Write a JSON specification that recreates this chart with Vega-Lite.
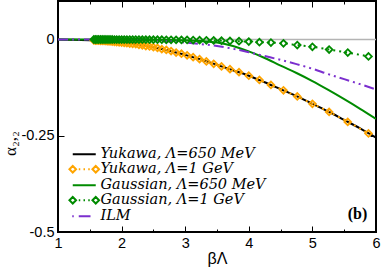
{
  "$schema": "https://vega.github.io/schema/vega-lite/v6.json",
  "width": 318,
  "height": 231,
  "autosize": {"type": "none"},
  "padding": {"left": 58, "top": 1, "right": 6, "bottom": 36},
  "background": "white",
  "config": {
    "view": {"stroke": "black", "strokeWidth": 2},
    "axis": {"domain": false, "grid": false, "tickColor": "black", "tickWidth": 1, "labelFont": "Liberation Sans", "labelFontSize": 14.5, "labelColor": "black", "titleFont": "Liberation Sans", "titleFontSize": 16, "titleColor": "black", "titleFontWeight": "normal", "labelFlush": false, "labelOverlap": false}
  },
  "data": {"values": [
    {"s": "Yukawa, Λ=650 MeV", "x": 1, "y": 0},
    {"s": "Yukawa, Λ=650 MeV", "x": 1.25, "y": -0.0005},
    {"s": "Yukawa, Λ=650 MeV", "x": 1.5, "y": -0.002},
    {"s": "Yukawa, Λ=650 MeV", "x": 1.75, "y": -0.004},
    {"s": "Yukawa, Λ=650 MeV", "x": 2, "y": -0.008},
    {"s": "Yukawa, Λ=650 MeV", "x": 2.25, "y": -0.013},
    {"s": "Yukawa, Λ=650 MeV", "x": 2.5, "y": -0.02},
    {"s": "Yukawa, Λ=650 MeV", "x": 2.75, "y": -0.029},
    {"s": "Yukawa, Λ=650 MeV", "x": 3, "y": -0.04},
    {"s": "Yukawa, Λ=650 MeV", "x": 3.25, "y": -0.052},
    {"s": "Yukawa, Λ=650 MeV", "x": 3.5, "y": -0.066},
    {"s": "Yukawa, Λ=650 MeV", "x": 3.75, "y": -0.08},
    {"s": "Yukawa, Λ=650 MeV", "x": 4, "y": -0.094},
    {"s": "Yukawa, Λ=650 MeV", "x": 4.25, "y": -0.111},
    {"s": "Yukawa, Λ=650 MeV", "x": 4.5, "y": -0.129},
    {"s": "Yukawa, Λ=650 MeV", "x": 4.75, "y": -0.147},
    {"s": "Yukawa, Λ=650 MeV", "x": 5, "y": -0.167},
    {"s": "Yukawa, Λ=650 MeV", "x": 5.25, "y": -0.187},
    {"s": "Yukawa, Λ=650 MeV", "x": 5.5, "y": -0.209},
    {"s": "Yukawa, Λ=650 MeV", "x": 5.75, "y": -0.231},
    {"s": "Yukawa, Λ=650 MeV", "x": 6, "y": -0.255},
    {"s": "Yukawa, Λ=1 GeV", "x": 1.563, "y": -0.0025},
    {"s": "Yukawa, Λ=1 GeV", "x": 1.587, "y": -0.0027},
    {"s": "Yukawa, Λ=1 GeV", "x": 1.613, "y": -0.0029},
    {"s": "Yukawa, Λ=1 GeV", "x": 1.639, "y": -0.0031},
    {"s": "Yukawa, Λ=1 GeV", "x": 1.667, "y": -0.0033},
    {"s": "Yukawa, Λ=1 GeV", "x": 1.695, "y": -0.0036},
    {"s": "Yukawa, Λ=1 GeV", "x": 1.724, "y": -0.0038},
    {"s": "Yukawa, Λ=1 GeV", "x": 1.754, "y": -0.0041},
    {"s": "Yukawa, Λ=1 GeV", "x": 1.786, "y": -0.0046},
    {"s": "Yukawa, Λ=1 GeV", "x": 1.818, "y": -0.0051},
    {"s": "Yukawa, Λ=1 GeV", "x": 1.852, "y": -0.0056},
    {"s": "Yukawa, Λ=1 GeV", "x": 1.887, "y": -0.0062},
    {"s": "Yukawa, Λ=1 GeV", "x": 1.923, "y": -0.0068},
    {"s": "Yukawa, Λ=1 GeV", "x": 1.961, "y": -0.0074},
    {"s": "Yukawa, Λ=1 GeV", "x": 2.0, "y": -0.008},
    {"s": "Yukawa, Λ=1 GeV", "x": 2.041, "y": -0.0088},
    {"s": "Yukawa, Λ=1 GeV", "x": 2.083, "y": -0.0097},
    {"s": "Yukawa, Λ=1 GeV", "x": 2.128, "y": -0.0106},
    {"s": "Yukawa, Λ=1 GeV", "x": 2.174, "y": -0.0115},
    {"s": "Yukawa, Λ=1 GeV", "x": 2.222, "y": -0.012},
    {"s": "Yukawa, Λ=1 GeV", "x": 2.273, "y": -0.014},
    {"s": "Yukawa, Λ=1 GeV", "x": 2.326, "y": -0.015},
    {"s": "Yukawa, Λ=1 GeV", "x": 2.381, "y": -0.017},
    {"s": "Yukawa, Λ=1 GeV", "x": 2.439, "y": -0.018},
    {"s": "Yukawa, Λ=1 GeV", "x": 2.5, "y": -0.02},
    {"s": "Yukawa, Λ=1 GeV", "x": 2.564, "y": -0.022},
    {"s": "Yukawa, Λ=1 GeV", "x": 2.632, "y": -0.025},
    {"s": "Yukawa, Λ=1 GeV", "x": 2.703, "y": -0.027},
    {"s": "Yukawa, Λ=1 GeV", "x": 2.778, "y": -0.03},
    {"s": "Yukawa, Λ=1 GeV", "x": 2.857, "y": -0.034},
    {"s": "Yukawa, Λ=1 GeV", "x": 2.941, "y": -0.037},
    {"s": "Yukawa, Λ=1 GeV", "x": 3.03, "y": -0.041},
    {"s": "Yukawa, Λ=1 GeV", "x": 3.125, "y": -0.046},
    {"s": "Yukawa, Λ=1 GeV", "x": 3.226, "y": -0.051},
    {"s": "Yukawa, Λ=1 GeV", "x": 3.333, "y": -0.057},
    {"s": "Yukawa, Λ=1 GeV", "x": 3.448, "y": -0.063},
    {"s": "Yukawa, Λ=1 GeV", "x": 3.571, "y": -0.07},
    {"s": "Yukawa, Λ=1 GeV", "x": 3.704, "y": -0.077},
    {"s": "Yukawa, Λ=1 GeV", "x": 3.846, "y": -0.085},
    {"s": "Yukawa, Λ=1 GeV", "x": 4.0, "y": -0.094},
    {"s": "Yukawa, Λ=1 GeV", "x": 4.167, "y": -0.105},
    {"s": "Yukawa, Λ=1 GeV", "x": 4.348, "y": -0.118},
    {"s": "Yukawa, Λ=1 GeV", "x": 4.545, "y": -0.132},
    {"s": "Yukawa, Λ=1 GeV", "x": 4.762, "y": -0.148},
    {"s": "Yukawa, Λ=1 GeV", "x": 5.0, "y": -0.167},
    {"s": "Yukawa, Λ=1 GeV", "x": 5.263, "y": -0.188},
    {"s": "Yukawa, Λ=1 GeV", "x": 5.556, "y": -0.214},
    {"s": "Yukawa, Λ=1 GeV", "x": 5.882, "y": -0.244},
    {"s": "Gaussian, Λ=650 MeV", "x": 1, "y": 0},
    {"s": "Gaussian, Λ=650 MeV", "x": 1.5, "y": 0},
    {"s": "Gaussian, Λ=650 MeV", "x": 2, "y": 0},
    {"s": "Gaussian, Λ=650 MeV", "x": 2.5, "y": -0.0005},
    {"s": "Gaussian, Λ=650 MeV", "x": 2.75, "y": -0.001},
    {"s": "Gaussian, Λ=650 MeV", "x": 3, "y": -0.002},
    {"s": "Gaussian, Λ=650 MeV", "x": 3.25, "y": -0.004},
    {"s": "Gaussian, Λ=650 MeV", "x": 3.5, "y": -0.008},
    {"s": "Gaussian, Λ=650 MeV", "x": 3.75, "y": -0.017},
    {"s": "Gaussian, Λ=650 MeV", "x": 4, "y": -0.031},
    {"s": "Gaussian, Λ=650 MeV", "x": 4.25, "y": -0.048},
    {"s": "Gaussian, Λ=650 MeV", "x": 4.5, "y": -0.068},
    {"s": "Gaussian, Λ=650 MeV", "x": 4.75, "y": -0.087},
    {"s": "Gaussian, Λ=650 MeV", "x": 5, "y": -0.108},
    {"s": "Gaussian, Λ=650 MeV", "x": 5.25, "y": -0.131},
    {"s": "Gaussian, Λ=650 MeV", "x": 5.5, "y": -0.155},
    {"s": "Gaussian, Λ=650 MeV", "x": 5.75, "y": -0.18},
    {"s": "Gaussian, Λ=650 MeV", "x": 6, "y": -0.206},
    {"s": "Gaussian, Λ=1 GeV", "x": 1.563, "y": 0},
    {"s": "Gaussian, Λ=1 GeV", "x": 1.587, "y": 0},
    {"s": "Gaussian, Λ=1 GeV", "x": 1.613, "y": 0},
    {"s": "Gaussian, Λ=1 GeV", "x": 1.639, "y": 0},
    {"s": "Gaussian, Λ=1 GeV", "x": 1.667, "y": 0},
    {"s": "Gaussian, Λ=1 GeV", "x": 1.695, "y": 0},
    {"s": "Gaussian, Λ=1 GeV", "x": 1.724, "y": 0},
    {"s": "Gaussian, Λ=1 GeV", "x": 1.754, "y": 0},
    {"s": "Gaussian, Λ=1 GeV", "x": 1.786, "y": 0},
    {"s": "Gaussian, Λ=1 GeV", "x": 1.818, "y": 0},
    {"s": "Gaussian, Λ=1 GeV", "x": 1.852, "y": 0},
    {"s": "Gaussian, Λ=1 GeV", "x": 1.887, "y": -0.0001},
    {"s": "Gaussian, Λ=1 GeV", "x": 1.923, "y": -0.0001},
    {"s": "Gaussian, Λ=1 GeV", "x": 1.961, "y": -0.0001},
    {"s": "Gaussian, Λ=1 GeV", "x": 2.0, "y": -0.0001},
    {"s": "Gaussian, Λ=1 GeV", "x": 2.041, "y": -0.0001},
    {"s": "Gaussian, Λ=1 GeV", "x": 2.083, "y": -0.0001},
    {"s": "Gaussian, Λ=1 GeV", "x": 2.128, "y": -0.0001},
    {"s": "Gaussian, Λ=1 GeV", "x": 2.174, "y": -0.0002},
    {"s": "Gaussian, Λ=1 GeV", "x": 2.222, "y": -0.0002},
    {"s": "Gaussian, Λ=1 GeV", "x": 2.273, "y": -0.0002},
    {"s": "Gaussian, Λ=1 GeV", "x": 2.326, "y": -0.0003},
    {"s": "Gaussian, Λ=1 GeV", "x": 2.381, "y": -0.0003},
    {"s": "Gaussian, Λ=1 GeV", "x": 2.439, "y": -0.0004},
    {"s": "Gaussian, Λ=1 GeV", "x": 2.5, "y": -0.0004},
    {"s": "Gaussian, Λ=1 GeV", "x": 2.564, "y": -0.0005},
    {"s": "Gaussian, Λ=1 GeV", "x": 2.632, "y": -0.0006},
    {"s": "Gaussian, Λ=1 GeV", "x": 2.703, "y": -0.0007},
    {"s": "Gaussian, Λ=1 GeV", "x": 2.778, "y": -0.0008},
    {"s": "Gaussian, Λ=1 GeV", "x": 2.857, "y": -0.0009},
    {"s": "Gaussian, Λ=1 GeV", "x": 2.941, "y": -0.001},
    {"s": "Gaussian, Λ=1 GeV", "x": 3.03, "y": -0.0012},
    {"s": "Gaussian, Λ=1 GeV", "x": 3.125, "y": -0.0014},
    {"s": "Gaussian, Λ=1 GeV", "x": 3.226, "y": -0.0017},
    {"s": "Gaussian, Λ=1 GeV", "x": 3.333, "y": -0.002},
    {"s": "Gaussian, Λ=1 GeV", "x": 3.448, "y": -0.0025},
    {"s": "Gaussian, Λ=1 GeV", "x": 3.571, "y": -0.003},
    {"s": "Gaussian, Λ=1 GeV", "x": 3.704, "y": -0.0037},
    {"s": "Gaussian, Λ=1 GeV", "x": 3.846, "y": -0.0045},
    {"s": "Gaussian, Λ=1 GeV", "x": 4.0, "y": -0.0055},
    {"s": "Gaussian, Λ=1 GeV", "x": 4.167, "y": -0.007},
    {"s": "Gaussian, Λ=1 GeV", "x": 4.348, "y": -0.008},
    {"s": "Gaussian, Λ=1 GeV", "x": 4.545, "y": -0.01},
    {"s": "Gaussian, Λ=1 GeV", "x": 4.762, "y": -0.0145},
    {"s": "Gaussian, Λ=1 GeV", "x": 5.0, "y": -0.019},
    {"s": "Gaussian, Λ=1 GeV", "x": 5.263, "y": -0.026},
    {"s": "Gaussian, Λ=1 GeV", "x": 5.556, "y": -0.034},
    {"s": "Gaussian, Λ=1 GeV", "x": 5.882, "y": -0.044},
    {"s": "ILM", "x": 1, "y": 0},
    {"s": "ILM", "x": 1.5, "y": -0.0002},
    {"s": "ILM", "x": 2, "y": -0.001},
    {"s": "ILM", "x": 2.5, "y": -0.003},
    {"s": "ILM", "x": 2.75, "y": -0.005},
    {"s": "ILM", "x": 3, "y": -0.008},
    {"s": "ILM", "x": 3.25, "y": -0.012},
    {"s": "ILM", "x": 3.5, "y": -0.017},
    {"s": "ILM", "x": 3.75, "y": -0.024},
    {"s": "ILM", "x": 4, "y": -0.033},
    {"s": "ILM", "x": 4.25, "y": -0.043},
    {"s": "ILM", "x": 4.5, "y": -0.053},
    {"s": "ILM", "x": 4.75, "y": -0.064},
    {"s": "ILM", "x": 5, "y": -0.076},
    {"s": "ILM", "x": 5.25, "y": -0.09},
    {"s": "ILM", "x": 5.5, "y": -0.103},
    {"s": "ILM", "x": 5.75, "y": -0.116},
    {"s": "ILM", "x": 6, "y": -0.13}
  ]},
  "layer": [
    {
      "data": {"values": [{"y": 0}]},
      "mark": {"type": "rule", "color": "#b4b4b4", "strokeWidth": 1.5},
      "encoding": {
        "y": {"field": "y", "type": "quantitative", "scale": {"domain": [-0.5, 0.1], "nice": false, "zero": false}, "axis": null}
      }
    },
    {
      "transform": [{"filter": "datum.s == 'Yukawa, Λ=650 MeV' || datum.s == 'Gaussian, Λ=650 MeV'"}],
      "mark": {"type": "line", "strokeWidth": 2, "interpolate": "monotone", "clip": true},
      "encoding": {
        "x": {"field": "x", "type": "quantitative", "scale": {"domain": [1, 6], "nice": false, "zero": false},
          "axis": {"orient": "bottom", "values": [1, 2, 3, 4, 5, 6], "format": "d", "tickSize": -6, "labelPadding": 10, "title": "βΛ", "titleY": 31, "titleBaseline": "alphabetic"}},
        "y": {"field": "y", "type": "quantitative", "scale": {"domain": [-0.5, 0.1], "nice": false, "zero": false},
          "axis": {"orient": "left", "values": [-0.5, -0.25, 0], "tickSize": -6, "labelPadding": 10, "labelExpr": "datum.value == 0 ? '0' : '-' + format(-datum.value, '')", "title": "α₂,₂", "titleFont": "Liberation Serif", "titleFontSize": 17, "titleX": -43, "titleY": 142, "titleAngle": -90, "titleAlign": "center", "titleBaseline": "alphabetic"}},
        "color": {"field": "s", "type": "nominal",
          "scale": {"domain": ["Yukawa, Λ=650 MeV", "Yukawa, Λ=1 GeV", "Gaussian, Λ=650 MeV", "Gaussian, Λ=1 GeV", "ILM"], "range": ["#000000", "#ffa500", "#008b00", "#008b00", "#7b2fce"]},
          "legend": {"title": null, "orient": "none", "legendX": 19, "legendY": 146, "symbolSize": 100, "symbolStrokeWidth": 2, "labelFont": "DejaVu Serif", "labelFontStyle": "italic", "labelFontSize": 14.5, "labelColor": "black", "labelOffset": 9, "labelLimit": 0, "rowPadding": 0, "padding": 0,
            "encode": {"symbols": {"update": {
              "shape": {"signal": "(datum.value == 'Yukawa, Λ=1 GeV' || datum.value == 'Gaussian, Λ=1 GeV') ? 'M-2.96,0L-2.3,-0.66L-1.64,0L-2.3,0.66Z M1.64,0L2.3,-0.66L2.96,0L2.3,0.66Z M-1.1,0L-0.8,0 M-0.15,0L0.15,0 M0.8,0L1.1,0' : (datum.value == 'ILM' ? 'M-2.4,0L-2.1,0 M-1.1,0L1.25,0' : 'M-2.3,0L2.3,0')"}}}}}}
      }
    },
    {
      "transform": [{"filter": "datum.s == 'Yukawa, Λ=1 GeV' || datum.s == 'Gaussian, Λ=1 GeV'"}],
      "mark": {"type": "line", "strokeWidth": 2, "strokeDash": [2, 4], "interpolate": "monotone", "clip": true},
      "encoding": {
        "x": {"field": "x", "type": "quantitative", "axis": null},
        "y": {"field": "y", "type": "quantitative", "axis": null},
        "color": {"field": "s", "type": "nominal", "legend": null}
      }
    },
    {
      "transform": [{"filter": "datum.s == 'ILM'"}],
      "mark": {"type": "line", "strokeWidth": 2, "strokeDash": [10, 4, 2, 4, 2, 4], "interpolate": "monotone", "clip": true},
      "encoding": {
        "x": {"field": "x", "type": "quantitative", "axis": null},
        "y": {"field": "y", "type": "quantitative", "axis": null},
        "color": {"field": "s", "type": "nominal", "legend": null}
      }
    },
    {
      "transform": [{"filter": "datum.s == 'Yukawa, Λ=1 GeV'"}],
      "mark": {"type": "point", "shape": "diamond", "filled": false, "stroke": "#ffa500", "strokeWidth": 1.8, "size": 45, "opacity": 1},
      "encoding": {
        "x": {"field": "x", "type": "quantitative", "axis": {"orient": "bottom", "values": [1.5, 2.5, 3.5, 4.5, 5.5], "tickSize": -3, "labels": false, "title": null}},
        "y": {"field": "y", "type": "quantitative", "axis": {"orient": "right", "values": [-0.5, -0.25, 0], "tickSize": -6, "labels": false, "title": null}}
      }
    },
    {
      "transform": [{"filter": "datum.s == 'Gaussian, Λ=1 GeV'"}],
      "mark": {"type": "point", "shape": "diamond", "filled": false, "stroke": "#008b00", "strokeWidth": 1.8, "size": 45, "opacity": 1},
      "encoding": {
        "x": {"field": "x", "type": "quantitative", "axis": {"orient": "top", "values": [1, 2, 3, 4, 5, 6], "tickSize": -6, "labels": false, "title": null}},
        "y": {"field": "y", "type": "quantitative", "axis": null}
      }
    },
    {
      "transform": [{"filter": "datum.s == 'Gaussian, Λ=1 GeV'"}],
      "mark": {"type": "point", "opacity": 0},
      "encoding": {
        "x": {"field": "x", "type": "quantitative", "axis": {"orient": "top", "values": [1.5, 2.5, 3.5, 4.5, 5.5], "tickSize": -3, "labels": false, "title": null}},
        "y": {"field": "y", "type": "quantitative", "axis": null}
      }
    },
    {
      "data": {"values": [{"label": "(b)"}]},
      "mark": {"type": "text", "font": "Liberation Serif", "fontWeight": "bold", "fontSize": 16, "align": "center", "baseline": "middle", "color": "black"},
      "encoding": {
        "text": {"field": "label"},
        "x": {"datum": 5.71, "type": "quantitative", "axis": null},
        "y": {"datum": -0.454, "type": "quantitative", "axis": null}
      }
    }
  ],
  "resolve": {"axis": {"x": "independent", "y": "independent"}}
}
